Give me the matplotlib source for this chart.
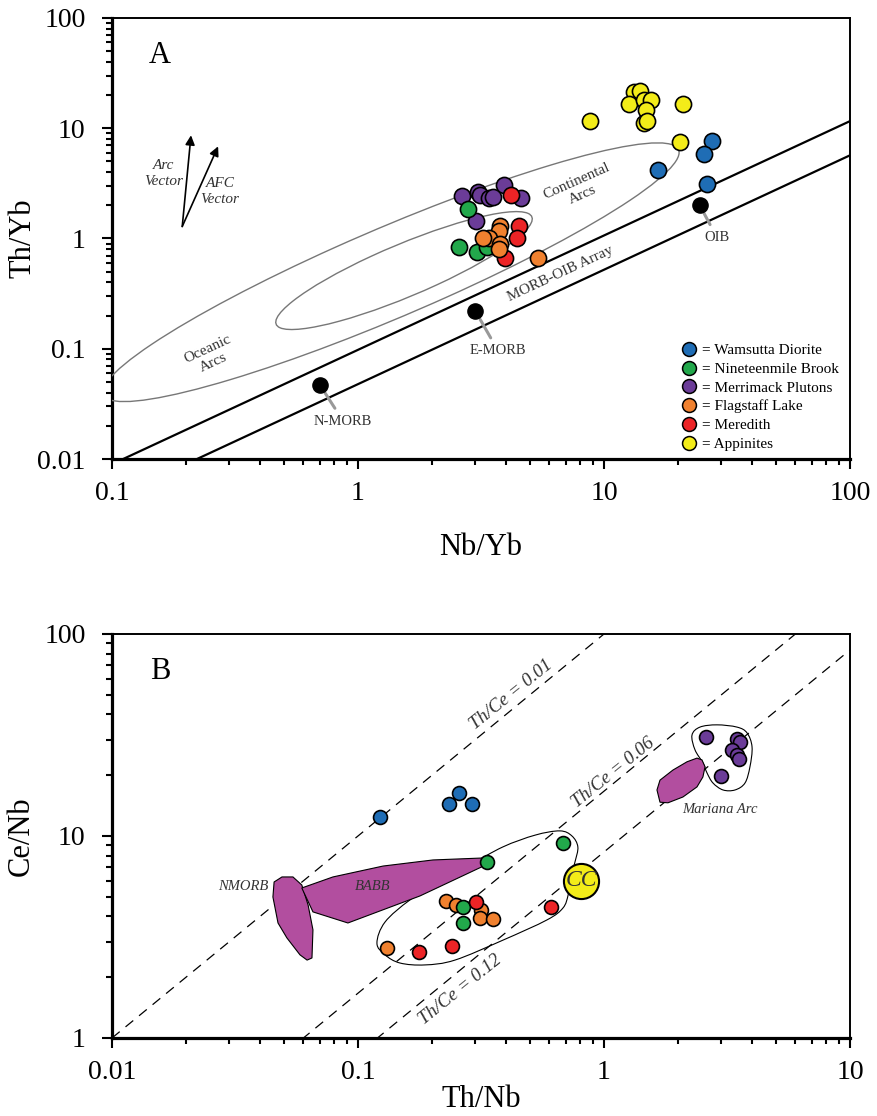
"""
Th/Yb vs Nb/Yb and Ce/Nb vs Th/Nb discrimination plots
"""

import matplotlib.pyplot as plt
import numpy as np
from matplotlib.patches import Ellipse, PathPatch, Polygon
from matplotlib.path import Path
from matplotlib.lines import Line2D
from matplotlib.ticker import FuncFormatter, LogLocator, NullFormatter

plt.rcParams['font.family'] = ['Liberation Serif', 'DejaVu Serif']

COLORS = {
    'wamsutta': '#1f6db5',
    'nineteenmile': '#22a84b',
    'merrimack': '#6b3c98',
    'flagstaff': '#f0812f',
    'meredith': '#ec2426',
    'appinites': '#f3ec19',
}
FIELD_FILL = '#b24e9f'

LEGEND_LABELS = ['= Wamsutta Diorite', '= Nineteenmile Brook', '= Merrimack Plutons',
                 '= Flagstaff Lake', '= Meredith', '= Appinites']

# ---- panel A: Nb/Yb (x), Th/Yb (y) ----
wamsutta_nb_yb = [16.6, 27.5, 25.5, 26.2]
wamsutta_th_yb = [4.15, 7.62, 5.8, 3.1]
nineteenmile_nb_yb = [2.80, 2.58, 3.05, 3.34]
nineteenmile_th_yb = [1.84, 0.83, 0.76, 0.83]
merrimack_nb_yb = [2.65, 3.08, 3.13, 3.41, 3.54, 3.92, 4.60, 3.02]
merrimack_th_yb = [2.41, 2.62, 2.46, 2.31, 2.36, 3.03, 2.31, 1.43]
flagstaff_nb_yb = [3.78, 3.74, 3.41, 3.22, 3.78, 3.74, 5.40]
flagstaff_th_yb = [1.31, 1.18, 1.02, 1.00, 0.90, 0.81, 0.67]
meredith_nb_yb = [4.19, 4.51, 4.43, 3.96]
meredith_th_yb = [2.46, 1.31, 1.02, 0.67]
appinites_nb_yb = [8.77, 13.2, 14.0, 12.6, 14.5, 15.5, 14.8, 14.5, 15.0, 20.9, 20.4]
appinites_th_yb = [11.6, 21.2, 21.7, 16.5, 18.0, 18.0, 14.6, 11.1, 11.6, 16.5, 7.46]

ref_names = ['N-MORB', 'E-MORB', 'OIB']
ref_nb_yb = [0.70, 3.0, 24.5]
ref_th_yb = [0.047, 0.22, 2.0]
ref_label_nb_yb = [0.87, 3.71, 28.8]
ref_label_th_yb = [0.0221, 0.0959, 1.02]

# MORB-OIB array boundaries (end points)
array_upper_nb = [0.111, 100]
array_upper_th = [0.01, 11.6]
array_lower_nb = [0.2216, 100]
array_lower_th = [0.01, 5.68]

# arc fields: tips of the long axis and half width in decades
arc_outer_tips = [(0.0965, 0.0349), (19.2, 7.0)]
arc_outer_halfwidth = 0.32
arc_inner_tips = [(0.482, 0.155), (4.91, 1.69)]
arc_inner_halfwidth = 0.186

# ---- panel B: Th/Nb (x), Ce/Nb (y) ----
wamsutta_th_nb = [0.123, 0.234, 0.257, 0.290]
wamsutta_ce_nb = [12.4, 14.4, 16.3, 14.4]
nineteenmile_th_nb = [0.681, 0.334, 0.267, 0.267]
nineteenmile_ce_nb = [9.23, 7.43, 4.46, 3.71]
merrimack_th_nb = [2.60, 3.48, 3.57, 3.31, 3.48, 3.54, 2.99]
merrimack_ce_nb = [30.9, 30.2, 29.2, 26.7, 25.2, 24.0, 19.8]
flagstaff_th_nb = [0.228, 0.250, 0.316, 0.313, 0.354, 0.131]
flagstaff_ce_nb = [4.77, 4.55, 4.31, 3.93, 3.88, 2.79]
meredith_th_nb = [0.302, 0.609, 0.241, 0.177]
meredith_ce_nb = [4.71, 4.46, 2.85, 2.67]

cc_th_nb = 0.81
cc_ce_nb = 6.0

th_ce_ratios = [0.01, 0.06, 0.12]
th_ce_label_th_nb = [0.42, 1.088, 0.26]
th_ce_label_ce_nb = [50.0, 20.5, 1.73]

nmorb_th_nb = [0.0491, 0.0544, 0.0591, 0.0627, 0.0656, 0.0650, 0.0621, 0.0581, 0.0514, 0.0473, 0.0451, 0.0456]
nmorb_ce_nb = [6.27, 6.27, 5.72, 4.55, 3.43, 2.49, 2.43, 2.58, 3.13, 3.71, 4.99, 5.92]
babb_th_nb = [0.0591, 0.0791, 0.1265, 0.2018, 0.328, 0.344, 0.1787, 0.0910, 0.0656]
babb_ce_nb = [5.53, 6.27, 7.10, 7.61, 7.79, 7.35, 5.05, 3.71, 4.21]
mariana_th_nb = [1.642, 1.689, 1.906, 2.175, 2.388, 2.502, 2.575, 2.524, 2.388, 2.094, 1.820, 1.689]
mariana_ce_nb = [16.9, 18.9, 21.2, 23.3, 24.3, 23.8, 22.0, 19.6, 17.5, 15.6, 14.6, 14.7]

# hand-drawn outlines around sample groups
group_outline_th_nb = [0.1194, 0.1288, 0.1483, 0.1871, 0.2477, 0.3882, 0.586, 0.681, 0.715, 0.728,
                       0.762, 0.783, 0.741, 0.662, 0.525, 0.3882, 0.285, 0.2153, 0.1625, 0.1288]
group_outline_ce_nb = [2.95, 2.58, 2.35, 2.30, 2.43, 3.05, 3.84, 4.40, 5.11, 6.05,
                       7.43, 8.83, 10.0, 10.6, 10.1, 8.83, 7.18, 5.92, 4.82, 3.75]
merrimack_outline_th_nb = [2.279, 2.455, 2.878, 3.474, 3.814, 3.998, 3.920, 3.743, 3.409, 3.047,
                           2.773, 2.624, 2.524, 2.344]
merrimack_outline_ce_nb = [31.6, 34.6, 35.5, 34.6, 32.4, 27.6, 22.0, 18.3, 16.9, 16.9,
                           18.3, 20.5, 23.0, 26.7]


def _log_transform(ax):
    """log10(data) -> display"""
    return ax.transLimits + ax.transAxes


def _add_log_ellipse(ax, tips, halfwidth, **kw):
    l1 = np.log10(tips[0])
    l2 = np.log10(tips[1])
    d = l2 - l1
    e = Ellipse((l1 + l2) / 2, np.hypot(d[0], d[1]), 2 * halfwidth,
                angle=np.degrees(np.arctan2(d[1], d[0])),
                transform=_log_transform(ax), fill=False, **kw)
    ax.add_patch(e)


def _add_smooth_outline(ax, xs, ys, **kw):
    """closed Catmull-Rom curve through the outline points, built in log space"""
    pts = np.column_stack([np.log10(xs), np.log10(ys)])
    n = len(pts)
    verts = [pts[0]]
    codes = [Path.MOVETO]
    for i in range(n):
        p0, p1, p2, p3 = pts[i - 1], pts[i], pts[(i + 1) % n], pts[(i + 2) % n]
        verts += [p1 + (p2 - p0) / 6, p2 - (p3 - p1) / 6, p2]
        codes += [Path.CURVE4] * 3
    patch = PathPatch(Path(verts, codes), transform=_log_transform(ax), fill=False, **kw)
    ax.add_patch(patch)


def _style_log_axes(ax, xlim, ylim):
    ax.set_xscale('log')
    ax.set_yscale('log')
    ax.set_xlim(*xlim)
    ax.set_ylim(*ylim)
    fmt = FuncFormatter(lambda v, _: f'{v:g}')
    for axis in (ax.xaxis, ax.yaxis):
        axis.set_major_locator(LogLocator(base=10))
        axis.set_minor_locator(LogLocator(base=10, subs=np.arange(2, 10)))
        axis.set_major_formatter(fmt)
        axis.set_minor_formatter(NullFormatter())
    ax.tick_params(which='both', direction='out', top=False, right=False, width=1.5, labelsize=20)
    ax.tick_params(which='major', length=7)
    ax.tick_params(which='minor', length=4.5)
    ax.tick_params(axis='y', pad=12)
    ax.tick_params(axis='x', pad=9)
    for side in ('left', 'bottom'):
        ax.spines[side].set_linewidth(2.3)
    for side in ('top', 'right'):
        ax.spines[side].set_linewidth(1.4)


def _scatter(ax, x, y, color, s):
    ax.scatter(x, y, s=s, c=color, edgecolors='black', linewidths=1.2, zorder=5)


def plot_panel_a(ax):
    _style_log_axes(ax, (0.1, 100), (0.01, 100))

    ax.plot(array_upper_nb, array_upper_th, color='black', lw=1.6, zorder=2)
    ax.plot(array_lower_nb, array_lower_th, color='black', lw=1.6, zorder=2)

    _add_log_ellipse(ax, arc_outer_tips, arc_outer_halfwidth, edgecolor='#777777', lw=1.0, zorder=3)
    _add_log_ellipse(ax, arc_inner_tips, arc_inner_halfwidth, edgecolor='#777777', lw=1.0, zorder=3)

    ax.text(0.252, 0.0863, 'Oceanic\nArcs', rotation=25, ha='center', va='center',
            multialignment='center', fontsize=11, color='#333333', rotation_mode='anchor')
    ax.text(7.98, 2.85, 'Continental\nArcs', rotation=24, ha='center', va='center',
            multialignment='center', fontsize=11, color='#333333', rotation_mode='anchor')
    ax.text(6.62, 0.481, 'MORB-OIB Array', rotation=25, ha='center', va='center',
            fontsize=11, color='#333333', rotation_mode='anchor')

    # reference compositions with leader lines
    ax.scatter(ref_nb_yb, ref_th_yb, s=120, c='black', zorder=5)
    for name, x, y, lx, ly in zip(ref_names, ref_nb_yb, ref_th_yb, ref_label_nb_yb, ref_label_th_yb):
        ax.annotate(name, xy=(x, y), xytext=(lx, ly), ha='center', va='center',
                    fontsize=10.5, color='#333333',
                    arrowprops=dict(arrowstyle='-', color='#999999', lw=2.2, shrinkA=3, shrinkB=7))

    _scatter(ax, wamsutta_nb_yb, wamsutta_th_yb, COLORS['wamsutta'], 135)
    _scatter(ax, appinites_nb_yb, appinites_th_yb, COLORS['appinites'], 135)
    _scatter(ax, merrimack_nb_yb, merrimack_th_yb, COLORS['merrimack'], 135)
    _scatter(ax, nineteenmile_nb_yb, nineteenmile_th_yb, COLORS['nineteenmile'], 135)
    _scatter(ax, meredith_nb_yb, meredith_th_yb, COLORS['meredith'], 135)
    _scatter(ax, flagstaff_nb_yb, flagstaff_th_yb, COLORS['flagstaff'], 135)

    # vectors
    arrow = dict(arrowstyle='-|>', color='black', lw=1.2, mutation_scale=14, shrinkA=0, shrinkB=0)
    ax.annotate('', xy=(0.2095, 8.63), xytext=(0.193, 1.285), arrowprops=arrow)
    ax.annotate('', xy=(0.270, 6.85), xytext=(0.193, 1.285), arrowprops=arrow)
    ax.text(0.1626, 3.9, 'Arc\nVector', ha='center', va='center', fontsize=11,
            style='italic', color='#333333', linespacing=1.35)
    ax.text(0.275, 2.67, 'AFC\nVector', ha='center', va='center', fontsize=11,
            style='italic', color='#333333', linespacing=1.35)

    ax.text(0.065, 0.916, 'A', transform=ax.transAxes, ha='center', va='center', fontsize=22)

    handles = [Line2D([], [], ls='none', marker='o', markersize=10, markerfacecolor=COLORS[k],
                      markeredgecolor='black', markeredgewidth=1.1) for k in COLORS]
    ax.legend(handles, LEGEND_LABELS, loc='upper left', bbox_to_anchor=(0.773, 0.262),
              frameon=False, fontsize=11, handlelength=0.9, handletextpad=0.4,
              labelspacing=0.33, borderpad=0, borderaxespad=0)

    ax.set_xlabel('Nb/Yb', fontsize=22, labelpad=19)
    ax.set_ylabel('Th/Yb', fontsize=22, labelpad=0)


def plot_panel_b(ax):
    _style_log_axes(ax, (0.01, 10), (1, 100))

    th_nb = np.array([0.01, 10])
    for r, lx, ly in zip(th_ce_ratios, th_ce_label_th_nb, th_ce_label_ce_nb):
        ax.plot(th_nb, th_nb / r, color='black', lw=0.9, ls=(0, (8, 6)), zorder=2)
        ax.text(lx, ly, f'Th/Ce = {r:g}', rotation=39, ha='center', va='center',
                fontsize=13.5, style='italic', color='#333333', rotation_mode='anchor')

    _add_smooth_outline(ax, group_outline_th_nb, group_outline_ce_nb,
                        edgecolor='black', lw=0.8, zorder=3)
    _add_smooth_outline(ax, merrimack_outline_th_nb, merrimack_outline_ce_nb,
                        edgecolor='black', lw=0.8, zorder=3)

    for xs, ys in ((nmorb_th_nb, nmorb_ce_nb), (babb_th_nb, babb_ce_nb), (mariana_th_nb, mariana_ce_nb)):
        ax.add_patch(Polygon(np.column_stack([xs, ys]), closed=True, facecolor=FIELD_FILL,
                             edgecolor='black', lw=0.8, zorder=4))

    field_text = dict(ha='center', va='center', fontsize=10.5, style='italic', color='#333333', zorder=5)
    ax.text(0.0341, 5.60, 'NMORB', **field_text)
    ax.text(0.115, 5.60, 'BABB', **field_text)
    ax.text(2.96, 13.5, 'Mariana Arc', **field_text)

    _scatter(ax, wamsutta_th_nb, wamsutta_ce_nb, COLORS['wamsutta'], 100)
    _scatter(ax, merrimack_th_nb, merrimack_ce_nb, COLORS['merrimack'], 100)
    _scatter(ax, flagstaff_th_nb, flagstaff_ce_nb, COLORS['flagstaff'], 100)
    _scatter(ax, nineteenmile_th_nb, nineteenmile_ce_nb, COLORS['nineteenmile'], 100)
    _scatter(ax, meredith_th_nb, meredith_ce_nb, COLORS['meredith'], 100)

    ax.scatter([cc_th_nb], [cc_ce_nb], s=640, c=COLORS['appinites'], edgecolors='black',
               linewidths=1.5, zorder=6)
    ax.text(cc_th_nb, cc_ce_nb, 'CC', ha='center', va='center', fontsize=17,
            style='italic', color='#333333', zorder=7)

    ax.text(0.065, 0.906, 'B', transform=ax.transAxes, ha='center', va='center', fontsize=22)

    ax.set_xlabel('Th/Nb', fontsize=22, labelpad=0)
    ax.set_ylabel('Ce/Nb', fontsize=22, labelpad=6)


fig = plt.figure(figsize=(8.77, 11.16), dpi=100)
ax_a = fig.add_axes([0.1277, 0.5887, 0.8415, 0.3952])
ax_b = fig.add_axes([0.1277, 0.0699, 0.8415, 0.3620])
plot_panel_a(ax_a)
plot_panel_b(ax_b)
fig.savefig('out.png', dpi=100)
plt.close(fig)
